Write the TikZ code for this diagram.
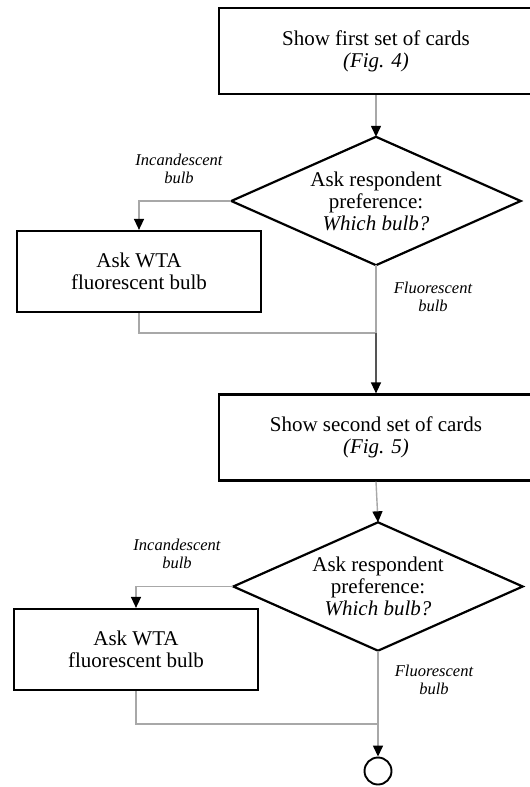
\documentclass[tikz,border=0pt]{standalone}
\usepackage{fontspec}
\setmainfont{Liberation Serif}
\usetikzlibrary{arrows.meta}

\definecolor{wire}{HTML}{A8A8A8}
\definecolor{wiredark}{HTML}{555555}

\tikzset{
  procbox/.style={draw=black, line width=2.2pt, minimum width=314pt, minimum height=86pt,
    inner sep=0pt, align=center, font=\fontsize{21}{22}\selectfont},
  wtabox/.style={draw=black, line width=2.2pt, minimum width=244pt, minimum height=81pt,
    inner sep=0pt, align=center, font=\fontsize{21}{22}\selectfont},
  decision/.style={minimum width=289pt, minimum height=128pt, inner sep=0pt,
    align=center, font=\fontsize{21}{22}\selectfont},
  rhombus/.style={draw=black, line width=2.2pt, line join=miter},
  branchlabel/.style={align=center, font=\fontsize{16.5}{18.5}\selectfont\itshape},
  flow/.style={draw=wire, line width=1.4pt, -{Triangle[width=10pt,length=11pt,color=black]}},
  flowplain/.style={draw=wire, line width=1.4pt},
  flowdark/.style={draw=wiredark, line width=1.3pt, -{Triangle[width=10pt,length=11pt,color=black]}},
  terminal/.style={circle, draw=black, line width=1.9pt, minimum size=27pt, inner sep=0pt}
}

\begin{document}
\begin{tikzpicture}[x=1pt, y=-1pt]
  \useasboundingbox (0,0) rectangle (530,787);
  \clip (0,0) rectangle (530,787);

  % first round of cards
  \node[procbox] (s1) at (376,51) {Show first set of cards\\\textit{(Fig. 4)}};
  \node[decision] (d1) at (376,201) {Ask respondent\\preference:\\\textit{Which bulb?}};
  \draw[rhombus] (d1.north) -- (d1.east) -- (d1.south) -- (d1.west) -- cycle;
  \node[wtabox] (w1) at (139,271.5) {Ask WTA\\fluorescent bulb};
  \coordinate (j1) at (376,333);
  \node[branchlabel] (li1) at (179,169) {Incandescent\\bulb};
  \node[branchlabel] (lf1) at (433,297) {Fluorescent\\bulb};

  % second round of cards
  \node[procbox] (s2) at (376,437.5) {Show second set of cards\\\textit{(Fig. 5)}};
  \node[decision] (d2) at (378,586.5) {Ask respondent\\preference:\\\textit{Which bulb?}};
  \draw[rhombus] (d2.north) -- (d2.east) -- (d2.south) -- (d2.west) -- cycle;
  \node[wtabox] (w2) at (136,649.5) {Ask WTA\\fluorescent bulb};
  \coordinate (j2) at (378,724);
  \node[branchlabel] (li2) at (177,554) {Incandescent\\bulb};
  \node[branchlabel] (lf2) at (434,680) {Fluorescent\\bulb};

  % end of the interview
  \node[terminal] (end) at (378,771) {};

  % connectors
  \draw[flow] (s1.south) -- (d1.north);
  \draw[flow] (d1.west) -| (w1.north);
  \draw[flowplain] (w1.south) |- (j1);
  \draw[flowplain] (d1.south) -- (j1);
  \draw[flowdark] (j1) -- (s2.north);

  \draw[flow] (s2.south) -- (d2.north);
  \draw[flow] (d2.west) -| (w2.north);
  \draw[flowplain] (w2.south) |- (j2);
  \draw[flowplain] (d2.south) -- (j2);
  \draw[flow] (j2) -- (end.north);
\end{tikzpicture}
\end{document}
